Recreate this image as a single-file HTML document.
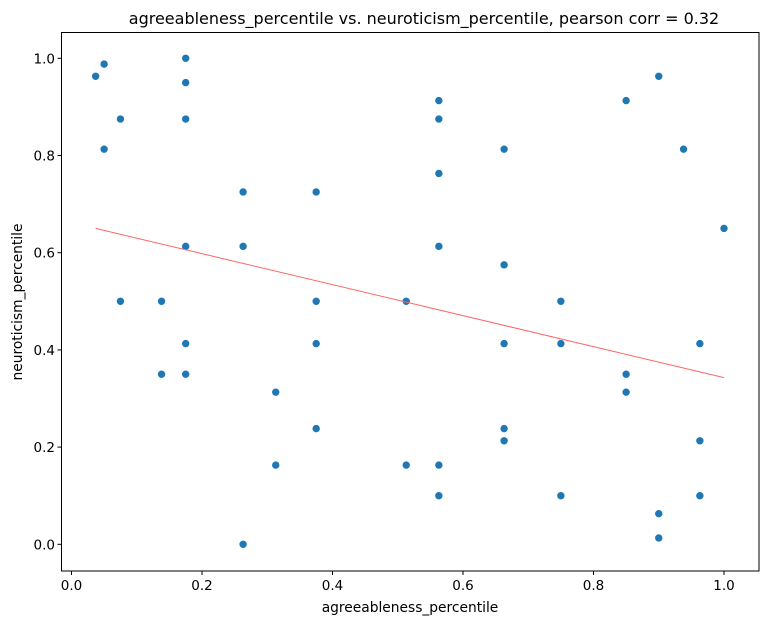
<!DOCTYPE html>
<html><head><meta charset="utf-8"><style>
body{margin:0;background:#fff;font-family:"Liberation Sans","DejaVu Sans",sans-serif}
</style></head><body>
<svg width="772" height="624" id="chart" font-family="DejaVu Sans, Liberation Sans, sans-serif">
<rect width="772" height="624" fill="#fff"/>
<text x="424" y="24" text-anchor="middle" font-size="16">agreeableness_percentile vs. neuroticism_percentile, pearson corr = 0.32</text>
<text x="410" y="612" text-anchor="middle" font-size="13.8">agreeableness_percentile</text>
<text x="22" y="302" text-anchor="middle" font-size="13.8" transform="rotate(-90 22 302)">neuroticism_percentile</text>
<g id="ticks"></g>
<g id="marks"></g>
<rect x="61.5" y="32.5" width="697.5" height="538.5" fill="none" stroke="#000" stroke-width="1"/>
</svg>
<script>
const xs=[0.037,0.05,0.05,0.075,0.075,0.138,0.138,0.175,0.175,0.175,0.175,0.175,0.175,0.263,0.263,0.263,0.313,0.313,0.375,0.375,0.375,0.375,0.513,0.513,0.563,0.563,0.563,0.563,0.563,0.563,0.663,0.663,0.663,0.663,0.663,0.75,0.75,0.75,0.85,0.85,0.85,0.9,0.9,0.9,0.938,0.963,0.963,0.963,1.0];
const ys=[0.963,0.988,0.813,0.875,0.5,0.5,0.35,1.0,0.95,0.875,0.613,0.413,0.35,0.725,0.613,0.0,0.313,0.163,0.725,0.5,0.413,0.238,0.5,0.163,0.913,0.875,0.763,0.613,0.163,0.1,0.813,0.575,0.413,0.238,0.213,0.5,0.413,0.1,0.913,0.35,0.313,0.963,0.063,0.013,0.813,0.413,0.213,0.1,0.65];
const fitX=[0.037,1.0];
const fitY=[0.65,0.343];
const xTicks=[0,0.2,0.4,0.6,0.8,1.0];
const yTicks=[0,0.2,0.4,0.6,0.8,1.0];
const NS='http://www.w3.org/2000/svg';
const sx=v=>71.5+v*652.5, sy=v=>544.3-v*486;
const tg=document.getElementById('ticks'), mg=document.getElementById('marks');
function mk(tag,a,p){const e=document.createElementNS(NS,tag);for(const k in a)e.setAttribute(k,a[k]);p.appendChild(e);return e;}
xTicks.forEach(t=>{
  const l=mk('line',{x1:sx(t),x2:sx(t),y1:571,y2:575,stroke:'#000'},tg);
  
  
  const tx=mk('text',{x:sx(t),y:590,'text-anchor':'middle','font-size':13.5},tg);
  tx.textContent=t.toFixed(1);
  
  
});
yTicks.forEach(t=>{
  const l=mk('line',{x1:57.5,x2:61.5,y1:sy(t),y2:sy(t),stroke:'#000'},tg);
  
  
  const tx=mk('text',{x:55,y:sy(t)+5,'text-anchor':'end','font-size':13.5},tg);
  tx.textContent=t.toFixed(1);
  
  
});
xs.forEach((x,i)=>{
  const c=mk('circle',{cx:sx(x),cy:sy(ys[i]),r:4,fill:'#1f77b4',stroke:'#fff','stroke-width':0.6},mg);
  
  
});
const fl=mk('line',{x1:sx(fitX[0]),y1:sy(fitY[0]),x2:sx(fitX[1]),y2:sy(fitY[1]),stroke:'#ff6666','stroke-width':1},mg);


</script>
</body></html>
